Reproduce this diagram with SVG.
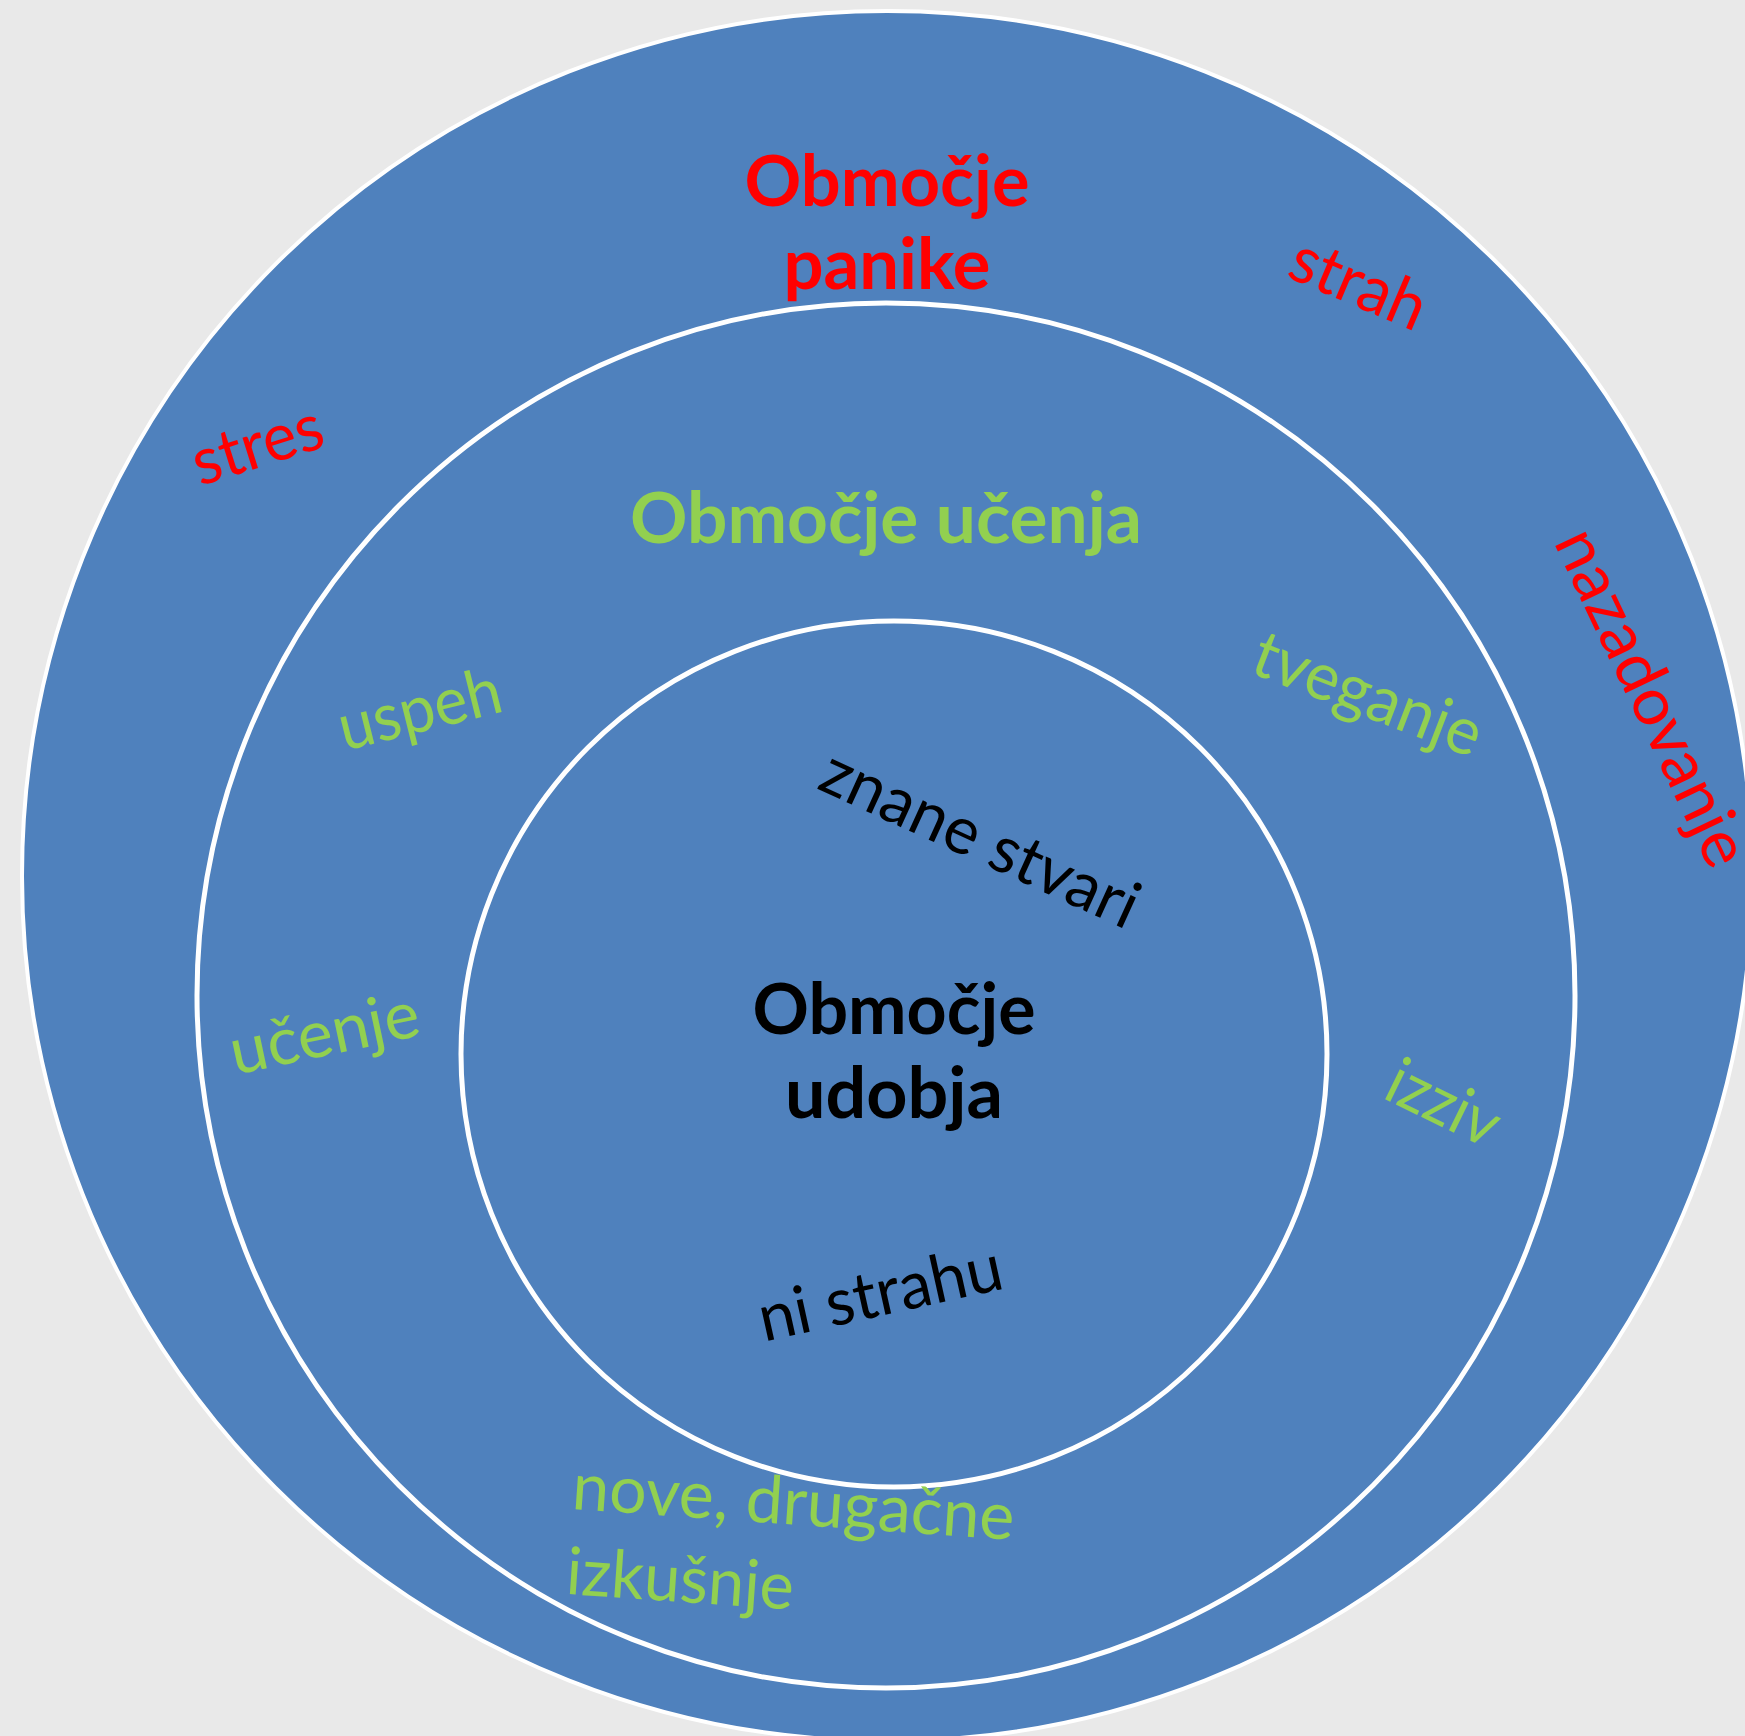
<svg xmlns="http://www.w3.org/2000/svg" width="1745" height="1736" viewBox="0 0 1745 1736">
<style>
  .zone { fill: #4F81BD; stroke: #FFFFFF; }
  .t { font-family: Lato, "Open Sans", "Liberation Sans", sans-serif; font-size: 66px; }
  .b { font-family: Lato, "Open Sans", "Liberation Sans", sans-serif; font-size: 71px; font-weight: bold; }
  .red { fill: #FF0000; }
  .green { fill: #92D050; }
  .black { fill: #000000; }
</style>
<rect x="0" y="0" width="1745" height="1736" fill="#E9E9E9"/>
<g id="circles">
  <circle class="zone" cx="887" cy="876" r="865" stroke-width="4"/>
  <ellipse class="zone" cx="886" cy="995.5" rx="689" ry="692.5" stroke-width="5"/>
  <circle class="zone" cx="894" cy="1054" r="433" stroke-width="5"/>
</g>
<g id="panic-zone">
  <text class="b red" x="887" y="206" text-anchor="middle" textLength="285" lengthAdjust="spacingAndGlyphs">Območje</text>
  <text class="b red" x="887" y="289" text-anchor="middle" textLength="207" lengthAdjust="spacingAndGlyphs">panike</text>
  <text class="t red" transform="translate(264,466) rotate(-17.5)" text-anchor="middle" textLength="134" lengthAdjust="spacingAndGlyphs">stres</text>
  <text class="t red" transform="translate(1350,304) rotate(23)" text-anchor="middle" textLength="142" lengthAdjust="spacingAndGlyphs">strah</text>
  <text class="t red" transform="translate(1632,707) rotate(64.5)" text-anchor="middle" textLength="366" lengthAdjust="spacingAndGlyphs">nazadovanje</text>
</g>
<g id="learning-zone">
  <text class="b green" x="886" y="543" text-anchor="middle" textLength="512" lengthAdjust="spacingAndGlyphs">Območje učenja</text>
  <text class="t green" transform="translate(425,731) rotate(-14)" text-anchor="middle" textLength="166" lengthAdjust="spacingAndGlyphs">uspeh</text>
  <text class="t green" transform="translate(1360,715) rotate(21)" text-anchor="middle" textLength="240" lengthAdjust="spacingAndGlyphs">tveganje</text>
  <text class="t green" transform="translate(329,1055) rotate(-12)" text-anchor="middle" textLength="192" lengthAdjust="spacingAndGlyphs">učenje</text>
  <text class="t green" transform="translate(1434,1123) rotate(26)" text-anchor="middle" textLength="118" lengthAdjust="spacingAndGlyphs">izziv</text>
  <g transform="translate(571,1509) rotate(4)">
    <text class="t green" x="0" y="0" textLength="443" lengthAdjust="spacingAndGlyphs">nove, drugačne</text>
    <text class="t green" x="0" y="85" textLength="228" lengthAdjust="spacingAndGlyphs">izkušnje</text>
  </g>
</g>
<g id="comfort-zone">
  <text class="b black" x="894" y="1034" text-anchor="middle" textLength="283" lengthAdjust="spacingAndGlyphs">Območje</text>
  <text class="b black" x="894" y="1118" text-anchor="middle" textLength="218" lengthAdjust="spacingAndGlyphs">udobja</text>
  <text class="t black" transform="translate(971,859) rotate(24.5)" text-anchor="middle" textLength="342" lengthAdjust="spacingAndGlyphs">znane stvari</text>
  <text class="t black" transform="translate(885,1315) rotate(-12.5)" text-anchor="middle" textLength="248" lengthAdjust="spacingAndGlyphs">ni strahu</text>
</g>
</svg>
